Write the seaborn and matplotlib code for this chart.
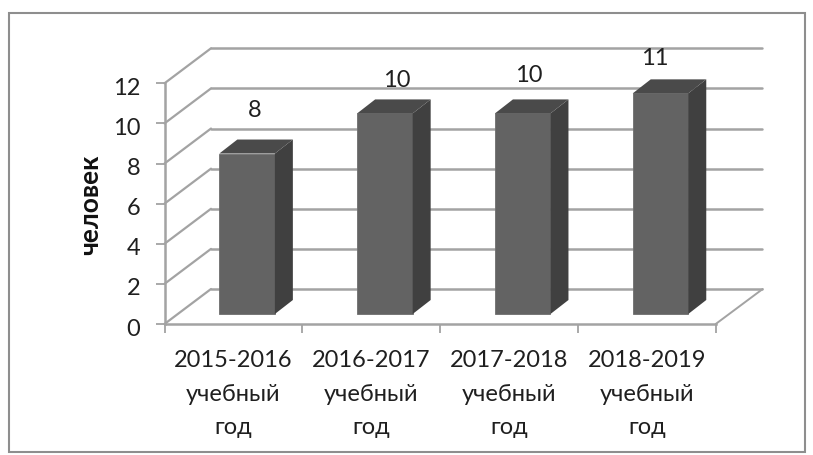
import seaborn as sns
import pandas as pd
import matplotlib.pyplot as plt
from matplotlib.patches import Polygon, Rectangle
from matplotlib.transforms import Affine2D

years = ["2015-2016", "2016-2017", "2017-2018", "2018-2019"]
people = [8, 10, 10, 11]
x_labels = ["2015-2016\nучебный\nгод", "2016-2017\nучебный\nгод",
            "2017-2018\nучебный\nгод", "2018-2019\nучебный\nгод"]
y_ticks = [0, 2, 4, 6, 8, 10, 12]
y_title = "человек"

GRID = "#a3a3a3"
TEXT = "#1f1f1f"
FONT = ["Lato", "DejaVu Sans"]

sns.set_theme(style="white")
plt.rcParams["font.family"] = FONT

W, H = 813, 455
fig = plt.figure(figsize=(W / 100, H / 100), dpi=100)
ax = fig.add_axes([164.5 / W, 1 - 324 / H, 551.2 / W, 240.7 / H])

df = pd.DataFrame({"year": years, "people": people})
sns.barplot(data=df, x="year", y="people", color="#636363", saturation=1,
            width=0.403, ax=ax, zorder=3)
ax.set_xlim(-0.5, 3.5)
ax.set_ylim(0, 12)


def unshift(px, py):
    # pixel shift into the fake 3D depth
    return ax.transData + Affine2D().translate(px, py)


back = unshift(46.5, 35)
for v in y_ticks:
    ax.plot([-0.5, 3.5], [v, v], color=GRID, lw=1.8, transform=back,
            clip_on=False, zorder=1)
    p0 = ax.transData.transform((-0.5, v))
    ax.plot([p0[0], p0[0] + 46.5], [p0[1], p0[1] + 35], color=GRID, lw=1.6,
            transform=None, clip_on=False, zorder=1)
p1 = ax.transData.transform((3.5, 0))
ax.plot([p1[0], p1[0] + 47], [p1[1], p1[1] + 35], color=GRID, lw=1.4,
        transform=None, clip_on=False, zorder=1)

# front faces sit 10 px above the floor edge, depth faces come from the patches
bar_shift = unshift(13.7, 10)
depth_x, depth_y = 18, 14
for bar in list(ax.patches):
    x0, x1 = bar.get_x(), bar.get_x() + bar.get_width()
    top = bar.get_height()
    bar.set_transform(bar_shift)
    bar.set_clip_on(False)
    bar.set_edgecolor("#6e6e6e")
    bar.set_linewidth(0.6)
    a = bar_shift.transform([(x0, 0), (x1, 0), (x0, top), (x1, top)])
    side = [a[1], a[3], a[3] + (depth_x, depth_y), a[1] + (depth_x, depth_y)]
    roof = [a[2], a[3], a[3] + (depth_x, depth_y), a[2] + (depth_x, depth_y)]
    ax.add_patch(Polygon(side, closed=True, transform=None, color="#404040",
                         clip_on=False, zorder=3, lw=0))
    ax.add_patch(Polygon(roof, closed=True, transform=None, color="#4a4a4a",
                         clip_on=False, zorder=3, lw=0))

label_shift = [(21.6, 53), (26, 43), (20, 48), (8, 45)]
for i, (v, off) in enumerate(zip(people, label_shift)):
    ax.annotate(str(v), (i, v), xytext=off, textcoords="offset pixels",
                ha="center", va="center", fontsize=17, color=TEXT)

sns.despine(ax=ax, top=True, right=True)
for spine in ["left", "bottom"]:
    ax.spines[spine].set_color(GRID)
    ax.spines[spine].set_linewidth(1.8)

ax.set_yticks(y_ticks)
ax.set_xticks(range(len(x_labels)))
ax.set_xticklabels(x_labels, fontsize=17, color=TEXT, linespacing=1.72)
ax.set_xticks([-0.5, 0.5, 1.5, 2.5, 3.5], minor=True)
ax.tick_params(axis="x", which="major", length=0, pad=19)
ax.tick_params(axis="x", which="minor", length=6.5, width=1.3, color=GRID,
               bottom=True)
ax.tick_params(axis="y", length=6.5, width=1.3, color=GRID, left=True,
               labelsize=17, labelcolor=TEXT, pad=11)
for lab in ax.get_yticklabels():
    lab.set_transform(lab.get_transform() + Affine2D().translate(0, -3))
ax.set_xlabel("")
ax.set_ylabel("")
fig.text(90 / W, 1 - 205 / H, y_title, rotation=90, ha="center", va="center",
         fontsize=19, fontweight="bold", color="#111111")

fig.add_artist(Rectangle((8.5 / W, 1 - 451.5 / H), 796.5 / W, 439 / H,
                         transform=fig.transFigure, fill=False,
                         edgecolor="#8e8e8e", lw=1.5))

fig.savefig("out.png", dpi=100)
